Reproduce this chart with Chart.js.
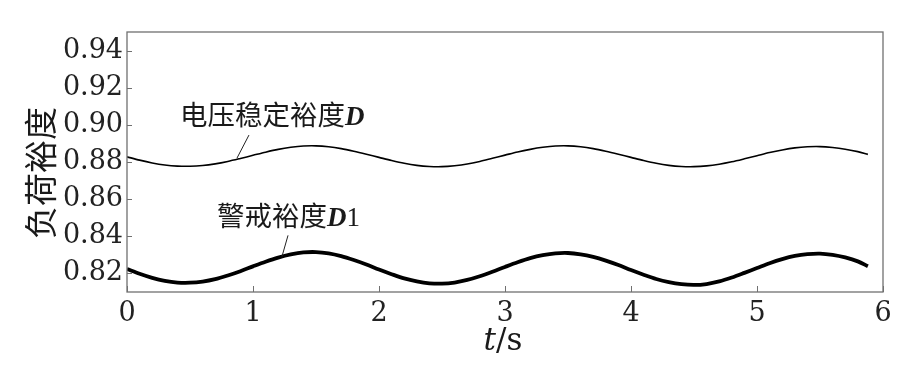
<!DOCTYPE html>
<html><head><meta charset="utf-8">
<script src="https://cdn.jsdelivr.net/npm/chart.js@4.4.1/dist/chart.umd.min.js"></script>
<style>html,body{margin:0;padding:0;background:#fff;}#wrap{width:901px;height:384px;}</style>
</head><body><div id="wrap"><canvas id="c" width="901" height="384"></canvas></div>
<script>
// ---- data ----
const timeS = [0,0.1,0.2,0.3,0.4,0.5,0.6,0.7,0.8,0.9,1.0,1.1,1.2,1.3,1.4,1.5,1.6,1.7,1.8,1.9,
  2.0,2.1,2.2,2.3,2.4,2.5,2.6,2.7,2.8,2.9,3.0,3.1,3.2,3.3,3.4,3.5,3.6,3.7,3.8,3.9,
  4.0,4.1,4.2,4.3,4.4,4.5,4.6,4.7,4.8,4.9,5.0,5.1,5.2,5.3,5.4,5.5,5.6,5.7,5.8,5.88];
const marginD = [0.8828,0.8810,0.8795,0.8784,0.8778,0.8777,0.8781,0.8790,0.8803,0.8819,
  0.8836,0.8853,0.8868,0.8879,0.8886,0.8887,0.8882,0.8872,0.8858,0.8842,
  0.8825,0.8808,0.8793,0.8782,0.8776,0.8775,0.8780,0.8789,0.8803,0.8820,
  0.8837,0.8854,0.8868,0.8879,0.8886,0.8887,0.8882,0.8872,0.8858,0.8842,
  0.8825,0.8808,0.8793,0.8782,0.8776,0.8775,0.8779,0.8788,0.8801,0.8817,
  0.8834,0.8851,0.8865,0.8876,0.8882,0.8883,0.8878,0.8869,0.8856,0.8841];
const warningD1 = [0.8224,0.8198,0.8176,0.8160,0.8151,0.8150,0.8156,0.8169,0.8189,0.8212,
  0.8238,0.8263,0.8285,0.8302,0.8313,0.8315,0.8308,0.8293,0.8272,0.8248,
  0.8221,0.8196,0.8173,0.8157,0.8147,0.8145,0.8151,0.8165,0.8185,0.8209,
  0.8235,0.8260,0.8282,0.8298,0.8308,0.8310,0.8303,0.8289,0.8269,0.8245,
  0.8218,0.8193,0.8170,0.8153,0.8142,0.8138,0.8143,0.8157,0.8178,0.8203,
  0.8229,0.8255,0.8277,0.8294,0.8304,0.8307,0.8300,0.8286,0.8265,0.8239];
const xTickValues = [0,1,2,3,4,5,6];
const yTickValues = [0.82,0.84,0.86,0.88,0.90,0.92,0.94];
const yTitleText = '负荷裕度';
const xTitleVar = 't';
const xTitleUnit = '/s';
const labelDText = '电压稳定裕度';
const labelDSym = 'D';
const labelD1Text = '警戒裕度';
const labelD1Sym = 'D';
const labelD1Sub = '1';

// annotation anchors in data coordinates (t, value)
const annD = {text: [0.42, 0.9000], lineFrom: [0.968, 0.8945], lineTo: [0.873, 0.8821]};
const annD1 = {text: [0.714, 0.8453], lineFrom: [1.278, 0.8405], lineTo: [1.23, 0.8291]};

const SERIF = '"DejaVu Serif", serif';
const TSERIF = '"Liberation Serif", "Times New Roman", serif';
const CJK = '"Noto Sans CJK SC", sans-serif';

function drawRuns(ctx, runs, x, y) {
  let cx = x;
  runs.forEach(r => {
    ctx.font = r.font;
    ctx.fillText(r.text, cx, y);
    cx += ctx.measureText(r.text).width + (r.gap || 0);
  });
}

const decor = {
  id: 'decor',
  afterDraw(chart) {
    const {ctx, chartArea: a, scales: {x, y}} = chart;
    ctx.save();
    // frame
    ctx.strokeStyle = '#707070';
    ctx.lineWidth = 1.3;
    ctx.strokeRect(a.left, a.top, a.right - a.left, a.bottom - a.top);
    // inward ticks
    ctx.lineWidth = 1;
    ctx.beginPath();
    yTickValues.forEach(v => {
      const py = Math.round(y.getPixelForValue(v)) + 0.5;
      ctx.moveTo(a.left, py); ctx.lineTo(a.left + 5, py);
    });
    xTickValues.forEach(v => {
      const px = Math.round(x.getPixelForValue(v)) + 0.5;
      ctx.moveTo(px, a.bottom); ctx.lineTo(px, a.bottom - 6);
    });
    ctx.stroke();
    // leader lines
    ctx.strokeStyle = '#222';
    ctx.lineWidth = 1;
    [annD, annD1].forEach(an => {
      ctx.beginPath();
      ctx.moveTo(x.getPixelForValue(an.lineFrom[0]), y.getPixelForValue(an.lineFrom[1]));
      ctx.lineTo(x.getPixelForValue(an.lineTo[0]), y.getPixelForValue(an.lineTo[1]));
      ctx.stroke();
    });
    // annotation text
    ctx.fillStyle = '#1a1a1a';
    ctx.textBaseline = 'alphabetic';
    ctx.textAlign = 'left';
    drawRuns(ctx, [
      {text: labelDText, font: '27.5px ' + CJK},
      {text: labelDSym, font: 'italic bold 27px ' + TSERIF}
    ], x.getPixelForValue(annD.text[0]), y.getPixelForValue(annD.text[1]));
    drawRuns(ctx, [
      {text: labelD1Text, font: '27.5px ' + CJK},
      {text: labelD1Sym, font: 'italic bold 27px ' + TSERIF},
      {text: labelD1Sub, font: '27px ' + TSERIF}
    ], x.getPixelForValue(annD1.text[0]), y.getPixelForValue(annD1.text[1]));
    // x title
    ctx.font = 'italic 31px ' + SERIF;
    const w1 = ctx.measureText(xTitleVar).width;
    ctx.font = '31px ' + SERIF;
    const w2 = ctx.measureText(xTitleUnit).width;
    const cx = (a.left + a.right) / 2 - 2;
    drawRuns(ctx, [
      {text: xTitleVar, font: 'italic 31px ' + SERIF},
      {text: xTitleUnit, font: '31px ' + SERIF}
    ], cx - (w1 + w2) / 2, 350);
    // y title
    ctx.translate(40, 173);
    ctx.rotate(-Math.PI / 2);
    ctx.textAlign = 'center';
    ctx.textBaseline = 'middle';
    ctx.font = '33px ' + CJK;
    ctx.fillText(yTitleText, 0, 0);
    ctx.restore();
  }
};

new Chart(document.getElementById('c'), {
  type: 'line',
  data: {
    datasets: [
      {label: labelDText + labelDSym, data: timeS.map((t, i) => ({x: t, y: marginD[i]})),
       borderColor: '#000', borderWidth: 1.6, pointRadius: 0, tension: 0.3, fill: false},
      {label: labelD1Text + labelD1Sym + labelD1Sub, data: timeS.map((t, i) => ({x: t, y: warningD1[i]})),
       borderColor: '#000', borderWidth: 3.8, pointRadius: 0, tension: 0.3, fill: false}
    ]
  },
  options: {
    responsive: false,
    animation: false,
    devicePixelRatio: 1,
    layout: {padding: {left: 0, top: 32, right: 18, bottom: 0}},
    plugins: {legend: {display: false}, tooltip: {enabled: false}},
    scales: {
      x: {
        type: 'linear', min: 0, max: 6,
        grid: {display: false, drawTicks: false}, border: {display: false},
        afterBuildTicks: s => { s.ticks = xTickValues.map(v => ({value: v})); },
        afterFit: s => { s.height = 92; },
        ticks: {color: '#222', padding: 6, font: {family: SERIF, size: 27}, callback: v => String(v), maxRotation: 0}
      },
      y: {
        type: 'linear', min: 0.81, max: 0.95,
        grid: {display: false, drawTicks: false}, border: {display: false},
        afterBuildTicks: s => { s.ticks = yTickValues.map(v => ({value: v})); },
        afterFit: s => { s.width = 127; },
        ticks: {color: '#222', padding: 4, font: {family: SERIF, size: 27}, callback: v => Number(v).toFixed(2)}
      }
    }
  },
  plugins: [decor]
});
</script></body></html>
